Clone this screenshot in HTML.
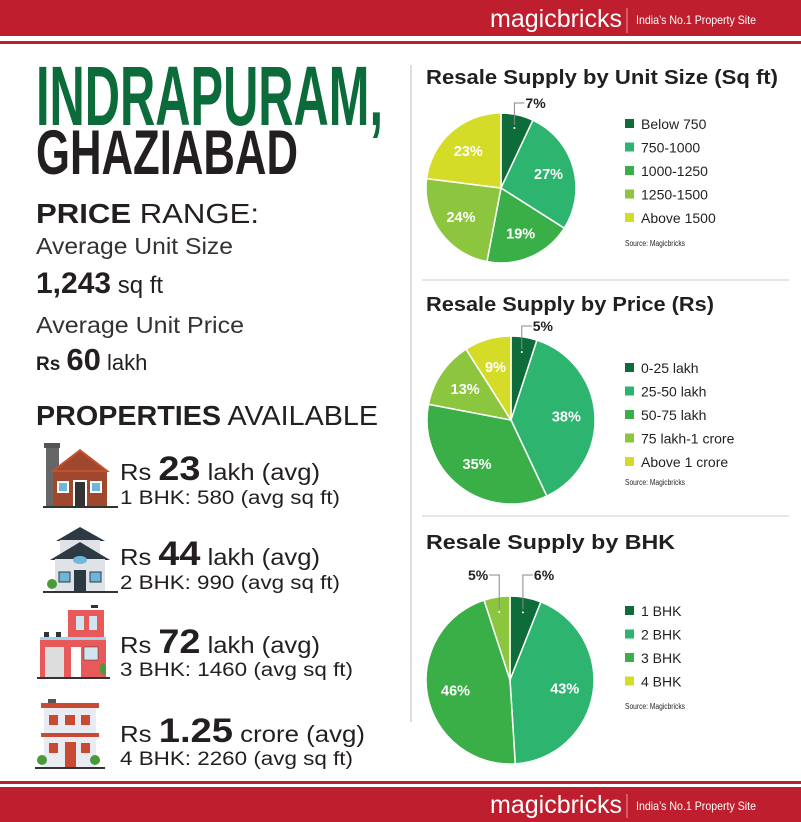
<!DOCTYPE html>
<html><head><meta charset="utf-8"><style>
html,body{margin:0;padding:0;background:#fff;}
svg{display:block;font-family:"Liberation Sans",sans-serif;}
</style></head><body>
<svg id="page" width="801" height="822" viewBox="0 0 801 822">
<g>
<rect x="0" y="0" width="801" height="36" fill="#be1e2d"/>
<rect x="0" y="41" width="801" height="3" fill="#be1e2d"/>
<text x="490" y="27" font-size="25" fill="#fff" textLength="132" lengthAdjust="spacingAndGlyphs">magicbricks</text>
<line x1="627" y1="8" x2="627" y2="33" stroke="#e89aa2" stroke-width="1"/>
<text x="636" y="24" font-size="12" fill="#fff" textLength="120" lengthAdjust="spacingAndGlyphs">India’s No.1 Property Site</text>
</g>
<g>
<rect x="0" y="781" width="801" height="3" fill="#be1e2d"/>
<rect x="0" y="787" width="801" height="35" fill="#be1e2d"/>
<text x="490" y="813" font-size="25" fill="#fff" textLength="132" lengthAdjust="spacingAndGlyphs">magicbricks</text>
<line x1="627" y1="794" x2="627" y2="818" stroke="#e89aa2" stroke-width="1"/>
<text x="636" y="810" font-size="12" fill="#fff" textLength="120" lengthAdjust="spacingAndGlyphs">India’s No.1 Property Site</text>
</g>
<line x1="411" y1="65" x2="411" y2="722" stroke="#bbb" stroke-width="1"/>
<line x1="422" y1="280" x2="789" y2="280" stroke="#ccc" stroke-width="1"/>
<line x1="422" y1="516" x2="789" y2="516" stroke="#ccc" stroke-width="1"/>

<g>
<text x="36" y="125" font-size="84" font-weight="bold" fill="#0b6b3a" textLength="347" lengthAdjust="spacingAndGlyphs">INDRAPURAM,</text>
<text x="36" y="174" font-size="63" font-weight="bold" fill="#231f20" textLength="262" lengthAdjust="spacingAndGlyphs">GHAZIABAD</text>
<text x="36" y="223" font-size="28" fill="#231f20" textLength="223" lengthAdjust="spacingAndGlyphs"><tspan font-weight="bold">PRICE</tspan> RANGE:</text>
<text x="36" y="254" font-size="23" fill="#333" textLength="197" lengthAdjust="spacingAndGlyphs">Average Unit Size</text>
<text x="36" y="293" font-size="24" fill="#231f20"><tspan font-weight="bold" font-size="30">1,243</tspan> sq ft</text>
<text x="36" y="333" font-size="23" fill="#333" textLength="208" lengthAdjust="spacingAndGlyphs">Average Unit Price</text>
<text x="36" y="370" font-size="22" fill="#231f20"><tspan font-weight="bold" font-size="19">Rs</tspan> <tspan font-weight="bold" font-size="31">60</tspan> lakh</text>
<text x="36" y="425" font-size="28" fill="#231f20" textLength="342" lengthAdjust="spacingAndGlyphs"><tspan font-weight="bold">PROPERTIES</tspan> AVAILABLE</text>
</g>

<g>
<rect x="46" y="444" width="13" height="62" fill="#666"/>
<rect x="44" y="443" width="16" height="5" fill="#555"/>
<rect x="53" y="470" width="54" height="36" fill="#a0482e"/>
<polygon points="50,472 80,449 110,472" fill="#c0502e"/>
<polygon points="56,470 80,452 104,470" fill="#a0482e"/>
<rect x="57" y="481" width="12" height="12" fill="#fff"/><rect x="59" y="483" width="8" height="8" fill="#6fb7d8"/>
<rect x="90" y="481" width="12" height="12" fill="#fff"/><rect x="92" y="483" width="8" height="8" fill="#6fb7d8"/>
<rect x="73" y="480" width="14" height="26" fill="#fff"/><rect x="75" y="482" width="10" height="24" fill="#333"/>
<rect x="43" y="506" width="75" height="2" fill="#333"/>
<text x="120" y="480" font-size="23" fill="#231f20" textLength="200" lengthAdjust="spacingAndGlyphs">Rs <tspan font-weight="bold" font-size="34">23</tspan> lakh (avg)</text>
<text x="120" y="504" font-size="19" fill="#231f20" textLength="220" lengthAdjust="spacingAndGlyphs">1 BHK: 580 (avg sq ft)</text>
</g>
<g>
<polygon points="56,541 80,527 105,541" fill="#2d3a44"/>
<rect x="60" y="540" width="40" height="20" fill="#dfe3e8"/>
<polygon points="50,560 80,542 110,560" fill="#2d3a44"/>
<rect x="55" y="559" width="50" height="32" fill="#dfe3e8"/>
<ellipse cx="80" cy="560" rx="7" ry="4" fill="#6fb7d8"/>
<rect x="59" y="572" width="11" height="10" fill="#6fb7d8" stroke="#2d3a44"/>
<rect x="90" y="572" width="11" height="10" fill="#6fb7d8" stroke="#2d3a44"/>
<rect x="74" y="570" width="12" height="21" fill="#2d3a44"/>
<circle cx="52" cy="584" r="5" fill="#4a9a3a"/>
<rect x="43" y="591" width="75" height="2" fill="#333"/>
<text x="120" y="565" font-size="23" fill="#231f20" textLength="200" lengthAdjust="spacingAndGlyphs">Rs <tspan font-weight="bold" font-size="34">44</tspan> lakh (avg)</text>
<text x="120" y="589" font-size="19" fill="#231f20" textLength="220" lengthAdjust="spacingAndGlyphs">2 BHK: 990 (avg sq ft)</text>
</g>
<g>
<rect x="68" y="610" width="36" height="28" fill="#e85a5a"/>
<rect x="91" y="605" width="7" height="3" fill="#333"/>
<rect x="76" y="616" width="8" height="14" fill="#cfe6f2"/><rect x="89" y="616" width="8" height="14" fill="#cfe6f2"/>
<rect x="44" y="632" width="5" height="5" fill="#333"/><rect x="56" y="632" width="5" height="5" fill="#333"/>
<rect x="40" y="637" width="66" height="40" fill="#e85a5a"/>
<rect x="40" y="637" width="66" height="3" fill="#9fd4ef"/>
<rect x="45" y="647" width="19" height="30" fill="#ddd"/>
<rect x="71" y="647" width="10" height="30" fill="#fff"/>
<rect x="84" y="647" width="14" height="13" fill="#cfe6f2" stroke="#333" stroke-width="0.5"/>
<ellipse cx="103" cy="669" rx="3" ry="6" fill="#4a9a3a"/>
<rect x="37" y="677" width="73" height="2" fill="#333"/>
<text x="120" y="653" font-size="23" fill="#231f20" textLength="200" lengthAdjust="spacingAndGlyphs">Rs <tspan font-weight="bold" font-size="34">72</tspan> lakh (avg)</text>
<text x="120" y="676" font-size="19" fill="#231f20" textLength="233" lengthAdjust="spacingAndGlyphs">3 BHK: 1460 (avg sq ft)</text>
</g>
<g>
<rect x="48" y="699" width="8" height="4" fill="#555"/>
<rect x="41" y="703" width="58" height="5" fill="#c84a32"/>
<rect x="44" y="708" width="52" height="59" fill="#e8ecf2"/>
<rect x="41" y="733" width="58" height="4" fill="#c84a32"/>
<rect x="49" y="715" width="9" height="10" fill="#c84a32"/><rect x="65" y="715" width="10" height="10" fill="#c84a32"/><rect x="81" y="715" width="9" height="10" fill="#c84a32"/>
<rect x="49" y="743" width="9" height="10" fill="#c84a32"/><rect x="81" y="743" width="9" height="10" fill="#c84a32"/>
<rect x="65" y="742" width="11" height="25" fill="#c84a32"/>
<circle cx="42" cy="760" r="5" fill="#4a9a3a"/><circle cx="95" cy="760" r="5" fill="#4a9a3a"/>
<rect x="35" y="767" width="70" height="2" fill="#333"/>
<text x="120" y="742" font-size="23" fill="#231f20" textLength="245" lengthAdjust="spacingAndGlyphs">Rs <tspan font-weight="bold" font-size="34">1.25</tspan> crore (avg)</text>
<text x="120" y="765" font-size="19" fill="#231f20" textLength="233" lengthAdjust="spacingAndGlyphs">4 BHK: 2260 (avg sq ft)</text>
</g>

<text x="426" y="84" font-size="20" font-weight="bold" fill="#231f20" textLength="352" lengthAdjust="spacingAndGlyphs">Resale Supply by Unit Size (Sq ft)</text>
<text x="426" y="311" font-size="20" font-weight="bold" fill="#231f20" textLength="288" lengthAdjust="spacingAndGlyphs">Resale Supply by Price (Rs)</text>
<text x="426" y="549" font-size="20" font-weight="bold" fill="#231f20" textLength="249" lengthAdjust="spacingAndGlyphs">Resale Supply by BHK</text>
<g id="charts"></g>
</svg>
<script>
const unitCategories = ["Below 750","750-1000","1000-1250","1250-1500","Above 1500"];
const unitValues = [7,27,19,24,23];
const priceCategories = ["0-25 lakh","25-50 lakh","50-75 lakh","75 lakh-1 crore","Above 1 crore"];
const priceValues = [5,38,35,13,9];
const bhkCategories = ["1 BHK","2 BHK","3 BHK","4 BHK"];
const bhkValues = [6,43,46,5];

const sliceColors = ["#0e6b3a","#2db46e","#3aaf48","#8cc63f","#d5dc27"];
const bhkSliceColors = ["#0e6b3a","#2db46e","#3aaf48","#8cc63f"];
const bhkLegendColors = ["#0e6b3a","#2db46e","#3aaf48","#d5dc27"];
const NS = "http://www.w3.org/2000/svg";
const root = document.getElementById("charts");

function mk(tag, attrs, parent){
  const e = document.createElementNS(NS, tag);
  for (const k in attrs) e.setAttribute(k, attrs[k]);
  parent.appendChild(e);
  return e;
}
function pt(cx, cy, r, a){ return [cx + r*Math.sin(a), cy - r*Math.cos(a)]; }

function drawPie(id, cats, vals, colors, legendColors, cx, cy, r, legX, legY, legStep, srcY, extLabelY){
  const g = mk("g", {}, root);
  
  
  const total = vals.reduce((a,b)=>a+b,0);
  let a0 = 0;
  vals.forEach((v, i) => {
    const a1 = a0 + v/total*2*Math.PI;
    const p0 = pt(cx,cy,r,a0), p1 = pt(cx,cy,r,a1);
    const large = (a1-a0) > Math.PI ? 1 : 0;
    const s = mk("path", {d:`M${cx},${cy} L${p0[0]},${p0[1]} A${r},${r} 0 ${large} 1 ${p1[0]},${p1[1]} Z`, fill:colors[i], stroke:"#fff", "stroke-width":1.5}, g);
    
    
    const mid = (a0+a1)/2;
    const frac = v/total;
    let lbl;
    if (frac < 0.08) {
      const d = pt(cx,cy,r*0.82,mid);
      const right = mid < Math.PI;
      const ex = right ? d[0]+10 : d[0]-10;
      mk("circle",{cx:d[0],cy:d[1],r:1,fill:"#fff"},g);
      mk("polyline",{points:`${d[0]},${d[1]-3} ${d[0]},${extLabelY-5} ${ex},${extLabelY-5}`,fill:"none",stroke:"#888","stroke-width":1},g);
      lbl = mk("text",{x: right ? ex+1 : ex-1, y:extLabelY, "font-size":14, "font-weight":"bold", fill:"#231f20", "text-anchor": right ? "start":"end"}, g);
    } else {
      const c = pt(cx,cy,r*0.66,mid);
      lbl = mk("text",{x:c[0], y:c[1]+5, "font-size":14.5, "font-weight":"bold", fill:"#fff", "text-anchor":"middle"}, g);
    }
    lbl.textContent = v + "%";
    
    
    a0 = a1;
  });
  const lg = mk("g", {}, root);
  
  
  cats.forEach((c, i) => {
    const y = legY + i*legStep;
    const sq = mk("rect",{x:legX, y:y-5, width:9, height:9, fill:legendColors[i]}, lg);
    
    
    const t = mk("text",{x:legX+16, y:y+5, "font-size":14, fill:"#231f20"}, lg);
    t.textContent = c;
    
    
  });
  const src = mk("text",{x:legX, y:srcY, "font-size":8, fill:"#231f20", textLength:60, lengthAdjust:"spacingAndGlyphs"}, lg);
  src.textContent = "Source: Magicbricks";
  
  
}

drawPie("unit-size", unitCategories, unitValues, sliceColors, sliceColors, 501, 188, 75, 625, 124, 23.5, 246, 108);
drawPie("price", priceCategories, priceValues, sliceColors, sliceColors, 511, 420, 84, 625, 368, 23.5, 485, 331);
drawPie("bhk", bhkCategories, bhkValues, bhkSliceColors, bhkLegendColors, 510, 680, 84, 625, 611, 23.5, 709, 580);
</script>
</body></html>
